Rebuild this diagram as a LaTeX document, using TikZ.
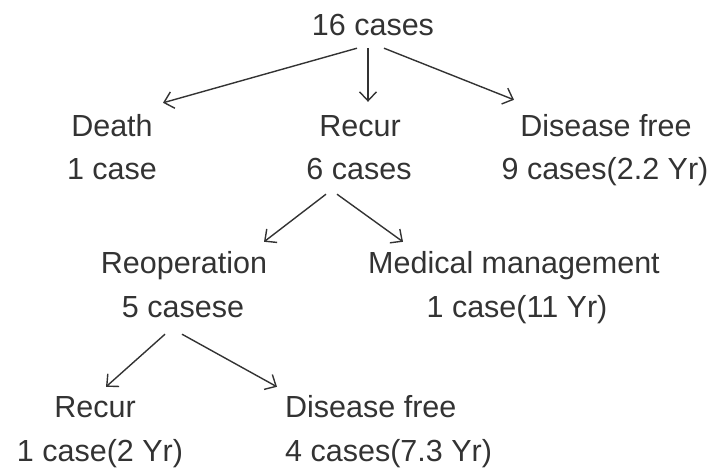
\documentclass[tikz,border=0pt]{standalone}
\usepackage{fontspec}
\setmainfont{Liberation Sans}
\usetikzlibrary{arrows.meta}
\definecolor{treegray}{HTML}{333333}

\begin{document}
\begin{tikzpicture}[x=1pt, y=-1pt,
    lbl/.style={font=\fontsize{30.5}{36}\selectfont, text=treegray, anchor=base,
                inner xsep=0pt, inner ysep=6pt, text height=22pt, text depth=6pt},
    arr/.style={-{Straight Barb[length=9pt,width=17pt]}, line width=1.4pt, color=treegray}
  ]
    \useasboundingbox (0,0) rectangle (716,469);

    \node[lbl] (all) at (373,35) {16 cases};

    \node[lbl] (death)  at (112,136) {Death};
    \node[lbl] (deathn) at (112,179) {1 case};
    \node[lbl] (recur)  at (360,136) {Recur};
    \node[lbl] (recurn) at (359,179) {6 cases};
    \node[lbl] (dfree)  at (606,136) {Disease free};
    \node[lbl] (dfreen) at (605,179) {9 cases(2.2 Yr)};

    \node[lbl] (reop)    at (184,273) {Reoperation};
    \node[lbl] (reopn)   at (183,317) {5 casese};
    \node[lbl] (medman)  at (514,273) {Medical management};
    \node[lbl] (medmann) at (517,317) {1 case(11 Yr)};

    \node[lbl] (rerecur)  at (95,417)  {Recur};
    \node[lbl] (rerecurn) at (100,461) {1 case(2 Yr)};
    \node[lbl, anchor=base west] (redfree)  at (285,417) {Disease free};
    \node[lbl, anchor=base west] (redfreen) at (285,461) {4 cases(7.3 Yr)};

    \draw[arr] ([xshift=-16pt,yshift=-1pt]all.south) -- ([xshift=51pt,yshift=5pt]death.north);
    \draw[arr] ([xshift=-5pt,yshift=-1pt]all.south) -- ([xshift=8pt,yshift=6pt]recur.north);
    \draw[arr] ([xshift=11pt,yshift=-1pt]all.south) -- ([xshift=-92pt,yshift=8pt]dfree.north);

    \draw[arr] ([xshift=-33pt,yshift=-3pt]recurn.south) -- ([xshift=80pt,yshift=3pt]reop.north);
    \draw[arr] ([xshift=-22pt,yshift=-3pt]recurn.south) -- ([xshift=-111pt,yshift=3pt]medman.north);

    \draw[arr] ([xshift=-18pt,yshift=-5pt]reopn.south) -- ([xshift=11pt,yshift=2pt]rerecur.north);
    \draw[arr] ([xshift=-1pt,yshift=-5pt]reopn.south) -- ([xshift=-8pt,yshift=2pt]redfree.north west);
  \end{tikzpicture}
\end{document}
